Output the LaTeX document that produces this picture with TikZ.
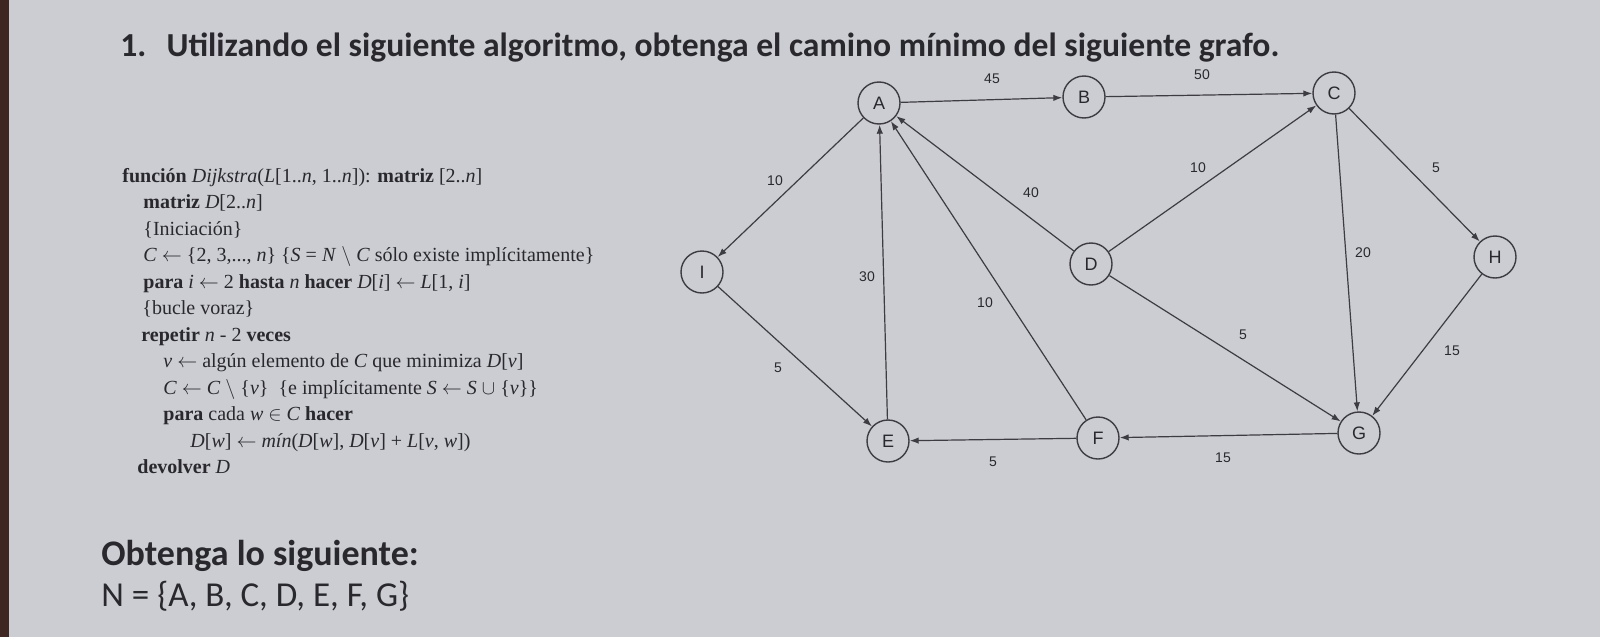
\documentclass[tikz,border=0pt]{standalone}
\usepackage{fontspec}
\setmainfont{Liberation Serif}
\newfontfamily\carlito{Carlito}
\newfontfamily\arialf{Liberation Sans}
\usetikzlibrary{arrows.meta}
\definecolor{paper}{RGB}{204,205,210}
\definecolor{ink}{RGB}{40,40,45}
\definecolor{edgec}{RGB}{60,60,66}
\definecolor{strip}{RGB}{62,38,34}
\tikzset{
  vtx/.style={circle,draw=edgec,line width=0.7pt,minimum size=21pt,inner sep=0pt,font=\arialf\fontsize{9}{9}\selectfont,text=ink},
  arc/.style={draw=edgec,line width=0.6pt,-{Latex[length=4.5pt,width=3.2pt]}},
  wlab/.style={font=\arialf\fontsize{7}{7}\selectfont,text=ink,inner sep=0pt},
  alg/.style={anchor=base west,inner sep=0pt,font=\fontsize{10}{10}\selectfont,text=ink},
  head/.style={anchor=west,inner sep=0pt,text=ink,font=\carlito\bfseries\fontsize{16.8}{16.8}\selectfont}
}
\begin{document}
\begin{tikzpicture}[x=0.5pt,y=-0.5pt]
\fill[paper] (0,0) rectangle (1600,637);
\fill[strip] (0,0) rectangle (9,637);
\useasboundingbox (0,0) rectangle (1600,637);
% title
\node[head] (title) at (120,48) {1.\hspace{0.6em}Utilizando el siguiente algoritmo, obtenga el camino mínimo del siguiente grafo.};
% algorithm
\node[alg] (l1) at (122,182) {\textbf{función} \textit{Dijkstra}(\textit{L}[1..\textit{n}, 1..\textit{n}]): \textbf{matriz} [2..\textit{n}]};
\node[alg] (l2) at (143,208.5) {\textbf{matriz} \textit{D}[2..\textit{n}]};
\node[alg] (l3) at (143,235) {\{Iniciación\}};
\node[alg] (l4) at (143,261.5) {\textit{C} $\leftarrow$ \{2, 3,..., \textit{n}\} \{\textit{S} = \textit{N} $\setminus$ \textit{C} sólo existe implícitamente\}};
\node[alg] (l5) at (143,288) {\textbf{para} \textit{i} $\leftarrow$ 2 \textbf{hasta} \textit{n} \textbf{hacer} \textit{D}[\textit{i}] $\leftarrow$ \textit{L}[1, \textit{i}]};
\node[alg] (l6) at (142,314.5) {\{bucle voraz\}};
\node[alg] (l7) at (141,341) {\textbf{repetir} \textit{n} - 2 \textbf{veces}};
\node[alg] (l8) at (163,367.5) {\textit{v} $\leftarrow$ algún elemento de \textit{C} que minimiza \textit{D}[\textit{v}]};
\node[alg] (l9) at (163,394) {\textit{C} $\leftarrow$ \textit{C} $\setminus$ \{\textit{v}\}\enspace\{e implícitamente \textit{S} $\leftarrow$ \textit{S} $\cup$ \{\textit{v}\}\}};
\node[alg] (l10) at (163,420.5) {\textbf{para} cada \textit{w} $\in$ \textit{C} \textbf{hacer}};
\node[alg] (l11) at (190,447) {\textit{D}[\textit{w}] $\leftarrow$ \textit{mín}(\textit{D}[\textit{w}], \textit{D}[\textit{v}] + \textit{L}[\textit{v}, \textit{w}])};
\node[alg] (l12) at (137,473.5) {\textbf{devolver} \textit{D}};
% bottom
\node[head,font=\carlito\bfseries\fontsize{18}{18}\selectfont] (obt) at (101,556) {Obtenga lo siguiente:};
\node[head,font=\carlito\fontsize{17.5}{17.5}\selectfont] (nset) at (101,596) {N = \{A, B, C, D, E, F, G\}};
% graph nodes
\node[vtx] (A) at (879,103) {A};
\node[vtx] (B) at (1084,97) {B};
\node[vtx] (C) at (1334,93) {C};
\node[vtx] (I) at (702,272) {I};
\node[vtx] (D) at (1091,264) {D};
\node[vtx] (H) at (1495,257) {H};
\node[vtx] (E) at (888,441) {E};
\node[vtx] (F) at (1098,438) {F};
\node[vtx] (G) at (1359,433) {G};
% edges
\draw[arc] (A) -- (B);
\draw[arc] (B) -- (C);
\draw[arc] (A) -- (I);
\draw[arc] (I) -- (E);
\draw[arc] (E) -- (A);
\draw[arc] (F) -- (A);
\draw[arc] (D) -- (A);
\draw[arc] (D) -- (C);
\draw[arc] (D) -- (G);
\draw[arc] (C) -- (G);
\draw[arc] (C) -- (H);
\draw[arc] (H) -- (G);
\draw[arc] (G) -- (F);
\draw[arc] (F) -- (E);
% weights
\node[wlab] (w45) at (992,79) {45};
\node[wlab] (w50) at (1202,75) {50};
\node[wlab] (wAI) at (775,181) {10};
\node[wlab] (w40) at (1031,193) {40};
\node[wlab] (w30) at (867,277) {30};
\node[wlab] (wFA) at (985,303) {10};
\node[wlab] (wIE) at (778,368) {5};
\node[wlab] (wFE) at (993,462) {5};
\node[wlab] (wDC) at (1198,168) {10};
\node[wlab] (wCH) at (1436,168) {5};
\node[wlab] (w20) at (1363,253) {20};
\node[wlab] (wDG) at (1243,335) {5};
\node[wlab] (wHG) at (1452,351) {15};
\node[wlab] (wGF) at (1223,458) {15};
\end{tikzpicture}
\end{document}
